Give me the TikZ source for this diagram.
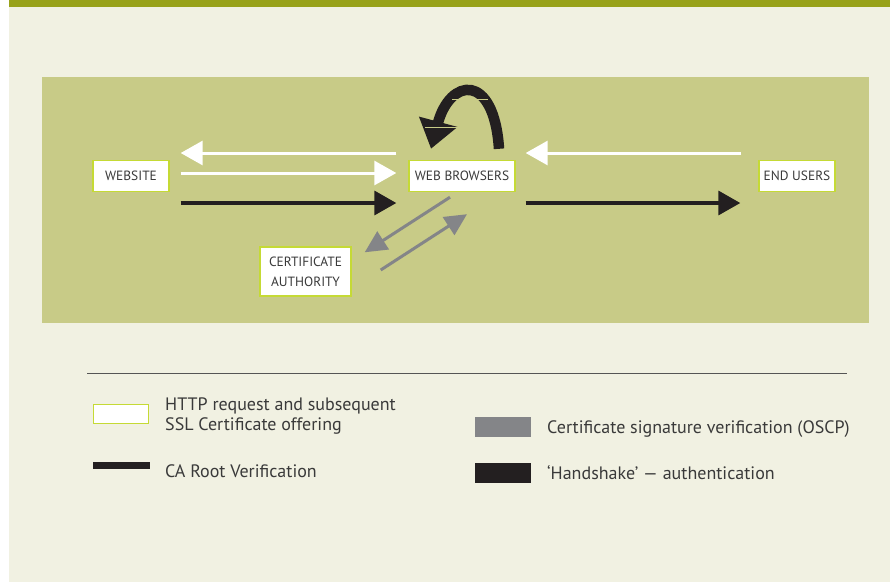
\documentclass[tikz,border=0pt]{standalone}
\usepackage{fontspec}
\setmainfont{PT Sans}
\usetikzlibrary{arrows.meta,calc}
\definecolor{pagebg}{HTML}{F1F1E2}
\definecolor{barolive}{HTML}{98A219}
\definecolor{panel}{HTML}{C8CB87}
\definecolor{lime}{HTML}{C5DA35}
\definecolor{ink}{HTML}{231F20}
\definecolor{greyarrow}{HTML}{848588}
\definecolor{textgrey}{HTML}{3A3A3A}
\definecolor{rulegrey}{HTML}{555555}

\begin{document}
\begin{tikzpicture}[x=1pt,y=-1pt,
  box/.style={draw=lime, line width=1.4pt, fill=white, text=textgrey,
    font=\fontsize{13.4}{20}\selectfont, align=center, inner sep=0pt},
  whitearrow/.style={draw=white, line width=3pt, -{Triangle[length=22pt,width=24pt]}},
  blackarrow/.style={draw=ink, line width=3.5pt, -{Triangle[length=22pt,width=24pt]}},
  greyarr/.style={draw=greyarrow, line width=3pt, -{Triangle[length=22pt,width=21pt]}},
  legendtext/.style={anchor=base west, text=textgrey, inner sep=0pt,
    font=\fontsize{18}{20}\selectfont, align=left}]

% page, header band and panel
\useasboundingbox (0,0) rectangle (890,582);
\fill[white] (0,0) rectangle (890,582);
\fill[pagebg] (9,0) rectangle (890,582);
\fill[barolive] (9,0) rectangle (890,7);
\fill[panel] (42,77) rectangle (869,323);

% nodes
\node[box, minimum width=76pt, minimum height=31pt] (site) at (131,176) {WEBSITE};
\node[box, minimum width=106pt, minimum height=31pt] (browser) at (462,176) {WEB BROWSERS};
\node[box, minimum width=76pt, minimum height=31pt] (users) at (797,176) {END USERS};
\node[box, minimum width=91pt, minimum height=49pt] (ca) at (305.5,271.5) {CERTIFICATE\\AUTHORITY};

% website <-> browsers
\draw[whitearrow] ($(browser.west)+(-12,-23)$) -- ($(site.east)+(11,-23)$);
\draw[whitearrow] ($(site.east)+(11,-3)$) -- ($(browser.west)+(-12,-3)$);
\draw[blackarrow] ($(site.east)+(11,27)$) -- ($(browser.west)+(-12,27)$);

% browsers <-> end users
\draw[whitearrow] ($(users.west)+(-17,-23)$) -- ($(browser.east)+(10,-23)$);
\draw[blackarrow] ($(browser.east)+(10,27)$) -- ($(users.west)+(-18,27)$);

% browsers <-> certificate authority
\draw[greyarr] ($(browser.south)+(-12,5)$) -- ($(ca.north east)+(13,6)$);
\draw[greyarr] ($(ca.east)+(29,-1.5)$) -- ($(browser.south)+(5,22)$);

% handshake loop over the browsers
\draw[draw=ink, line width=10.5pt, -{Triangle[length=28pt,width=38pt]}]
  ($(browser.north)+(37,-11)$) .. controls ($(browser.north)+(32,-88)$)
  and ($(browser.north)+(-12,-82)$) .. ($(browser.north)+(-31,-11)$);
\draw[panel, line width=1.1pt] (452,99.3) -- (488,99.3);
\draw[panel, line width=1.1pt] (425,127.7) -- (463,127.7);

% key
\draw[rulegrey, line width=1pt] (87,373) -- (847,373);
\draw[lime, fill=white, line width=1.4pt] (93.7,404.7) rectangle (148.3,423.3);
\fill[ink] (93,462) rectangle (150,469);
\fill[greyarrow] (475,417) rectangle (531,437);
\fill[ink] (475,463) rectangle (531,483);
\node[legendtext] (l1) at (165,430) {HTTP request and subsequent\\SSL Certificate offering};
\node[legendtext] (l2) at (165,477) {CA Root Verification};
\node[legendtext] (l3) at (547,433) {Certificate signature verification (OSCP)};
\node[legendtext] (l4) at (547,479) {‘Handshake’ — authentication};
\end{tikzpicture}
\end{document}
